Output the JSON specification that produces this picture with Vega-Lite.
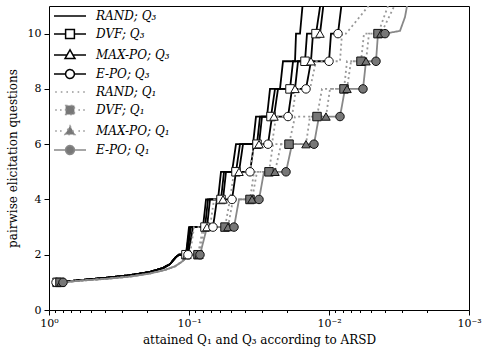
{
"$schema": "https://vega.github.io/schema/vega-lite/v6.json",
"width": 420, "height": 304,
"autosize": {"type": "none"},
"padding": {"left": 49, "top": 6, "right": 15, "bottom": 38},
"background": "white",
"config": {"view": {"stroke": "black", "strokeWidth": 1}, "font": "DejaVu Serif"},
"data": {"values": [
{"s":"RAND; Q₃","x":0.8767,"y":1},{"s":"RAND; Q₃","x":0.6006,"y":1.08},{"s":"RAND; Q₃","x":0.3852,"y":1.17},{"s":"RAND; Q₃","x":0.2639,"y":1.26},{"s":"RAND; Q₃","x":0.1899,"y":1.38},{"s":"RAND; Q₃","x":0.1534,"y":1.52},{"s":"RAND; Q₃","x":0.1367,"y":1.66},{"s":"RAND; Q₃","x":0.1238,"y":1.92},{"s":"RAND; Q₃","x":0.1179,"y":2},
{"s":"RAND; Q₃","x":0.1051,"y":2},{"s":"RAND; Q₃","x":0.1,"y":3},{"s":"RAND; Q₃","x":0.07943,"y":3},{"s":"RAND; Q₃","x":0.0756,"y":4},{"s":"RAND; Q₃","x":0.06207,"y":4},{"s":"RAND; Q₃","x":0.05908,"y":5},{"s":"RAND; Q₃","x":0.0493,"y":5},{"s":"RAND; Q₃","x":0.04616,"y":6},{"s":"RAND; Q₃","x":0.0349,"y":6},{"s":"RAND; Q₃","x":0.03322,"y":7},{"s":"RAND; Q₃","x":0.02772,"y":7},{"s":"RAND; Q₃","x":0.02639,"y":8},{"s":"RAND; Q₃","x":0.02239,"y":8},{"s":"RAND; Q₃","x":0.02131,"y":9},{"s":"RAND; Q₃","x":0.01749,"y":9},{"s":"RAND; Q₃","x":0.0172,"y":10},{"s":"RAND; Q₃","x":0.01611,"y":10},{"s":"RAND; Q₃","x":0.01534,"y":11.2},

{"s":"DVF; Q₃","x":0.8767,"y":1,"m":1},{"s":"DVF; Q₃","x":0.6006,"y":1.08},{"s":"DVF; Q₃","x":0.3852,"y":1.17},{"s":"DVF; Q₃","x":0.2639,"y":1.26},{"s":"DVF; Q₃","x":0.1899,"y":1.38},{"s":"DVF; Q₃","x":0.1534,"y":1.52},{"s":"DVF; Q₃","x":0.1367,"y":1.66},{"s":"DVF; Q₃","x":0.1238,"y":1.92},{"s":"DVF; Q₃","x":0.1179,"y":2},
{"s":"DVF; Q₃","x":0.1051,"y":2,"m":1},{"s":"DVF; Q₃","x":0.09837,"y":3},{"s":"DVF; Q₃","x":0.07686,"y":3,"m":1},{"s":"DVF; Q₃","x":0.07316,"y":4},{"s":"DVF; Q₃","x":0.05908,"y":4,"m":1},{"s":"DVF; Q₃","x":0.05624,"y":5},{"s":"DVF; Q₃","x":0.04616,"y":5,"m":1},{"s":"DVF; Q₃","x":0.04322,"y":6},{"s":"DVF; Q₃","x":0.03268,"y":6,"m":1},{"s":"DVF; Q₃","x":0.0311,"y":7},{"s":"DVF; Q₃","x":0.02596,"y":7,"m":1},{"s":"DVF; Q₃","x":0.02431,"y":8},{"s":"DVF; Q₃","x":0.01899,"y":8,"m":1},{"s":"DVF; Q₃","x":0.01807,"y":9},{"s":"DVF; Q₃","x":0.01484,"y":9,"m":1},{"s":"DVF; Q₃","x":0.01436,"y":10},{"s":"DVF; Q₃","x":0.01238,"y":10,"m":1},{"s":"DVF; Q₃","x":0.01141,"y":11.2},

{"s":"MAX-PO; Q₃","x":0.8624,"y":1,"m":1},{"s":"MAX-PO; Q₃","x":0.6006,"y":1.08},{"s":"MAX-PO; Q₃","x":0.3852,"y":1.17},{"s":"MAX-PO; Q₃","x":0.2639,"y":1.26},{"s":"MAX-PO; Q₃","x":0.1899,"y":1.38},{"s":"MAX-PO; Q₃","x":0.1534,"y":1.52},{"s":"MAX-PO; Q₃","x":0.1367,"y":1.66},{"s":"MAX-PO; Q₃","x":0.1238,"y":1.92},{"s":"MAX-PO; Q₃","x":0.1179,"y":2},
{"s":"MAX-PO; Q₃","x":0.1034,"y":2,"m":1},{"s":"MAX-PO; Q₃","x":0.09676,"y":3},{"s":"MAX-PO; Q₃","x":0.07437,"y":3,"m":1},{"s":"MAX-PO; Q₃","x":0.0708,"y":4},{"s":"MAX-PO; Q₃","x":0.05717,"y":4,"m":1},{"s":"MAX-PO; Q₃","x":0.05442,"y":5},{"s":"MAX-PO; Q₃","x":0.04394,"y":5,"m":1},{"s":"MAX-PO; Q₃","x":0.04114,"y":6},{"s":"MAX-PO; Q₃","x":0.03162,"y":6,"m":1},{"s":"MAX-PO; Q₃","x":0.0301,"y":7},{"s":"MAX-PO; Q₃","x":0.02471,"y":7,"m":1},{"s":"MAX-PO; Q₃","x":0.02314,"y":8},{"s":"MAX-PO; Q₃","x":0.01749,"y":8,"m":1},{"s":"MAX-PO; Q₃","x":0.01665,"y":9},{"s":"MAX-PO; Q₃","x":0.01345,"y":9,"m":1},{"s":"MAX-PO; Q₃","x":0.01301,"y":10},{"s":"MAX-PO; Q₃","x":0.0116,"y":10,"m":1},{"s":"MAX-PO; Q₃","x":0.01086,"y":11.2},

{"s":"E-PO; Q₃","x":0.8913,"y":1,"m":1},{"s":"E-PO; Q₃","x":0.6006,"y":1.08},{"s":"E-PO; Q₃","x":0.3852,"y":1.17},{"s":"E-PO; Q₃","x":0.2639,"y":1.26},{"s":"E-PO; Q₃","x":0.1899,"y":1.38},{"s":"E-PO; Q₃","x":0.1534,"y":1.52},{"s":"E-PO; Q₃","x":0.1367,"y":1.66},{"s":"E-PO; Q₃","x":0.1238,"y":1.92},{"s":"E-PO; Q₃","x":0.1179,"y":2},
{"s":"E-PO; Q₃","x":0.1017,"y":2,"m":1},{"s":"E-PO; Q₃","x":0.09363,"y":3},{"s":"E-PO; Q₃","x":0.06739,"y":3,"m":1},{"s":"E-PO; Q₃","x":0.0631,"y":4},{"s":"E-PO; Q₃","x":0.0493,"y":4,"m":1},{"s":"E-PO; Q₃","x":0.04616,"y":5},{"s":"E-PO; Q₃","x":0.03667,"y":5,"m":1},{"s":"E-PO; Q₃","x":0.03433,"y":6},{"s":"E-PO; Q₃","x":0.02727,"y":6,"m":1},{"s":"E-PO; Q₃","x":0.02553,"y":7},{"s":"E-PO; Q₃","x":0.01962,"y":7,"m":1},{"s":"E-PO; Q₃","x":0.01837,"y":8},{"s":"E-PO; Q₃","x":0.0146,"y":8,"m":1},{"s":"E-PO; Q₃","x":0.01345,"y":9},{"s":"E-PO; Q₃","x":0.01,"y":9,"m":1},{"s":"E-PO; Q₃","x":0.009676,"y":10},{"s":"E-PO; Q₃","x":0.008624,"y":10,"m":1},{"s":"E-PO; Q₃","x":0.008075,"y":11.2},

{"s":"RAND; Q₁","x":0.8075,"y":1},{"s":"RAND; Q₁","x":0.6006,"y":1.06},{"s":"RAND; Q₁","x":0.3852,"y":1.13},{"s":"RAND; Q₁","x":0.2639,"y":1.21},{"s":"RAND; Q₁","x":0.1899,"y":1.32},{"s":"RAND; Q₁","x":0.1484,"y":1.45},{"s":"RAND; Q₁","x":0.1259,"y":1.58},{"s":"RAND; Q₁","x":0.1122,"y":1.75},{"s":"RAND; Q₁","x":0.1017,"y":1.95},{"s":"RAND; Q₁","x":0.09837,"y":2},
{"s":"RAND; Q₁","x":0.0921,"y":3},{"s":"RAND; Q₁","x":0.0708,"y":3},{"s":"RAND; Q₁","x":0.06628,"y":4},{"s":"RAND; Q₁","x":0.05095,"y":4},{"s":"RAND; Q₁","x":0.0477,"y":5},{"s":"RAND; Q₁","x":0.03667,"y":5},{"s":"RAND; Q₁","x":0.03433,"y":6},{"s":"RAND; Q₁","x":0.02553,"y":6},{"s":"RAND; Q₁","x":0.02391,"y":7},{"s":"RAND; Q₁","x":0.01837,"y":7},{"s":"RAND; Q₁","x":0.0172,"y":8},{"s":"RAND; Q₁","x":0.01367,"y":8},{"s":"RAND; Q₁","x":0.01238,"y":9},{"s":"RAND; Q₁","x":0.008345,"y":9},{"s":"RAND; Q₁","x":0.008075,"y":10},{"s":"RAND; Q₁","x":0.00756,"y":10},{"s":"RAND; Q₁","x":0.00485,"y":11.2},

{"s":"DVF; Q₁","x":0.8345,"y":1,"m":1},{"s":"DVF; Q₁","x":0.6006,"y":1.06},{"s":"DVF; Q₁","x":0.3852,"y":1.13},{"s":"DVF; Q₁","x":0.2639,"y":1.21},{"s":"DVF; Q₁","x":0.1899,"y":1.32},{"s":"DVF; Q₁","x":0.1484,"y":1.45},{"s":"DVF; Q₁","x":0.1259,"y":1.58},{"s":"DVF; Q₁","x":0.1122,"y":1.75},{"s":"DVF; Q₁","x":0.1017,"y":1.95},{"s":"DVF; Q₁","x":0.09837,"y":2},
{"s":"DVF; Q₁","x":0.08624,"y":2,"m":1},{"s":"DVF; Q₁","x":0.07943,"y":3},{"s":"DVF; Q₁","x":0.05532,"y":3,"m":1},{"s":"DVF; Q₁","x":0.05095,"y":4},{"s":"DVF; Q₁","x":0.03667,"y":4,"m":1},{"s":"DVF; Q₁","x":0.03433,"y":5},{"s":"DVF; Q₁","x":0.02683,"y":5,"m":1},{"s":"DVF; Q₁","x":0.02512,"y":6},{"s":"DVF; Q₁","x":0.0193,"y":6,"m":1},{"s":"DVF; Q₁","x":0.01749,"y":7},{"s":"DVF; Q₁","x":0.01218,"y":7,"m":1},{"s":"DVF; Q₁","x":0.01122,"y":8},{"s":"DVF; Q₁","x":0.007814,"y":8,"m":1},{"s":"DVF; Q₁","x":0.007437,"y":9},{"s":"DVF; Q₁","x":0.005908,"y":9,"m":1},{"s":"DVF; Q₁","x":0.005624,"y":10},{"s":"DVF; Q₁","x":0.004467,"y":10,"m":1},{"s":"DVF; Q₁","x":0.003667,"y":11.2},

{"s":"MAX-PO; Q₁","x":0.8209,"y":1,"m":1},{"s":"MAX-PO; Q₁","x":0.6006,"y":1.06},{"s":"MAX-PO; Q₁","x":0.3852,"y":1.13},{"s":"MAX-PO; Q₁","x":0.2639,"y":1.21},{"s":"MAX-PO; Q₁","x":0.1899,"y":1.32},{"s":"MAX-PO; Q₁","x":0.1484,"y":1.45},{"s":"MAX-PO; Q₁","x":0.1259,"y":1.58},{"s":"MAX-PO; Q₁","x":0.1122,"y":1.75},{"s":"MAX-PO; Q₁","x":0.1017,"y":1.95},{"s":"MAX-PO; Q₁","x":0.09837,"y":2},
{"s":"MAX-PO; Q₁","x":0.08484,"y":2,"m":1},{"s":"MAX-PO; Q₁","x":0.07686,"y":3},{"s":"MAX-PO; Q₁","x":0.05266,"y":3,"m":1},{"s":"MAX-PO; Q₁","x":0.0485,"y":4},{"s":"MAX-PO; Q₁","x":0.03548,"y":4,"m":1},{"s":"MAX-PO; Q₁","x":0.03268,"y":5},{"s":"MAX-PO; Q₁","x":0.02431,"y":5,"m":1},{"s":"MAX-PO; Q₁","x":0.02202,"y":6},{"s":"MAX-PO; Q₁","x":0.0146,"y":6,"m":1},{"s":"MAX-PO; Q₁","x":0.01367,"y":7},{"s":"MAX-PO; Q₁","x":0.01051,"y":7,"m":1},{"s":"MAX-PO; Q₁","x":0.009837,"y":8},{"s":"MAX-PO; Q₁","x":0.007437,"y":8,"m":1},{"s":"MAX-PO; Q₁","x":0.006964,"y":9},{"s":"MAX-PO; Q₁","x":0.005442,"y":9,"m":1},{"s":"MAX-PO; Q₁","x":0.00518,"y":10},{"s":"MAX-PO; Q₁","x":0.004252,"y":10,"m":1},{"s":"MAX-PO; Q₁","x":0.003268,"y":11.2},

{"s":"E-PO; Q₁","x":0.7943,"y":1,"m":1},{"s":"E-PO; Q₁","x":0.6006,"y":1.06},{"s":"E-PO; Q₁","x":0.3852,"y":1.13},{"s":"E-PO; Q₁","x":0.2639,"y":1.21},{"s":"E-PO; Q₁","x":0.1899,"y":1.32},{"s":"E-PO; Q₁","x":0.1484,"y":1.45},{"s":"E-PO; Q₁","x":0.1259,"y":1.58},{"s":"E-PO; Q₁","x":0.1122,"y":1.75},{"s":"E-PO; Q₁","x":0.1017,"y":1.95},{"s":"E-PO; Q₁","x":0.09837,"y":2},
{"s":"E-PO; Q₁","x":0.08345,"y":2,"m":1},{"s":"E-PO; Q₁","x":0.07437,"y":3},{"s":"E-PO; Q₁","x":0.0477,"y":3,"m":1},{"s":"E-PO; Q₁","x":0.04394,"y":4},{"s":"E-PO; Q₁","x":0.03162,"y":4,"m":1},{"s":"E-PO; Q₁","x":0.02912,"y":5},{"s":"E-PO; Q₁","x":0.02028,"y":5,"m":1},{"s":"E-PO; Q₁","x":0.01837,"y":6},{"s":"E-PO; Q₁","x":0.0128,"y":6,"m":1},{"s":"E-PO; Q₁","x":0.01179,"y":7},{"s":"E-PO; Q₁","x":0.008345,"y":7,"m":1},{"s":"E-PO; Q₁","x":0.007686,"y":8},{"s":"E-PO; Q₁","x":0.005717,"y":8,"m":1},{"s":"E-PO; Q₁","x":0.005442,"y":9},{"s":"E-PO; Q₁","x":0.004616,"y":9,"m":1},{"s":"E-PO; Q₁","x":0.004467,"y":10},{"s":"E-PO; Q₁","x":0.003981,"y":10,"m":1},{"s":"E-PO; Q₁","x":0.003111,"y":10.1},{"s":"E-PO; Q₁","x":0.002865,"y":10.6},{"s":"E-PO; Q₁","x":0.002727,"y":11.2}
]},
"encoding": {
  "x": {"field": "x", "type": "quantitative",
    "scale": {"type": "log", "domain": [0.001, 1], "reverse": true, "nice": false},
    "axis": {"title": "attained Q₁ and Q₃ according to ARSD",
      "values": [1,0.9,0.8,0.7,0.6,0.5,0.4,0.3,0.2,0.1,0.09,0.08,0.07,0.06,0.05,0.04,0.03,0.02,0.01,0.009,0.008,0.007,0.006,0.005,0.004,0.003,0.002,0.001],
      "labelExpr": "datum.value == 1 ? '10⁰' : datum.value == 0.1 ? '10⁻¹' : datum.value == 0.01 ? '10⁻²' : datum.value == 0.001 ? '10⁻³' : ''",
      "tickSize": {"condition": {"test": "datum.value == 1 || datum.value == 0.1 || datum.value == 0.01 || datum.value == 0.001", "value": 5}, "value": 2.5},
      "grid": false, "domain": false, "labelFlush": false, "labelOverlap": false, "labelPadding": 2,
      "tickColor": "black", "labelColor": "black", "titleColor": "black",
      "labelFont": "DejaVu Serif", "labelFontSize": 11, "titleFont": "DejaVu Serif", "titleFontSize": 12, "titleFontWeight": "normal", "titlePadding": 6}},
  "y": {"field": "y", "type": "quantitative",
    "scale": {"domain": [0, 11], "nice": false, "zero": true},
    "axis": {"title": "pairwise elicitation questions", "values": [0,2,4,6,8,10],
      "grid": false, "domain": false, "tickSize": 5, "labelPadding": 3,
      "tickColor": "black", "labelColor": "black", "titleColor": "black",
      "labelFont": "DejaVu Serif", "labelFontSize": 11, "titleFont": "DejaVu Serif", "titleFontSize": 12, "titleFontWeight": "normal", "titlePadding": 8}}
},
"layer": [
  {"mark": {"type": "line", "clip": true, "strokeWidth": 1.8, "interpolate": "linear"},
   "encoding": {
     "color": {"field": "s", "type": "nominal",
       "scale": {"domain": ["RAND; Q₃","DVF; Q₃","MAX-PO; Q₃","E-PO; Q₃","RAND; Q₁","DVF; Q₁","MAX-PO; Q₁","E-PO; Q₁"],
                 "range": ["#000000","#000000","#000000","#000000","#999999","#999999","#999999","#888888"]},
       "legend": {"title": null, "orient": "none", "legendX": 15, "legendY": 4, "padding": 0,
         "labelFont": "DejaVu Serif", "labelFontSize": 12, "labelFontStyle": "italic", "labelColor": "black",
         "rowPadding": 4, "labelOffset": 20, "symbolSize": 64, "symbolStrokeWidth": 1.5,
         "encode": {"symbols": {"update": {
           "shape": {"signal": "['M-4,0H4','M-4,0H-1.1M1.1,0H4M-1.1,-1.1H1.1V1.1H-1.1Z','M-4,0H-0.74M0.74,0H4M0,-1.3L1.25,0.9H-1.25Z','M-4,0H-1.1M1.1,0H4M1.1,0A1.1,1.1,0,1,1,-1.1,0A1.1,1.1,0,1,1,1.1,0Z','M-3.7,0H-3.3M-2.3,0H-1.9M-0.9,0H-0.5M0.5,0H0.9M1.9,0H2.3M3.3,0H3.7','M-3.7,0H-3.3M-2.5,0H-2.1M2.1,0H2.5M3.3,0H3.7M-1.1,-1.1H1.1V1.1H-1.1Z','M-3.7,0H-3.3M-2.5,0H-2.1M2.1,0H2.5M3.3,0H3.7M0,-1.3L1.25,0.9H-1.25Z','M-4,0H-1.1M1.1,0H4M1.1,0A1.1,1.1,0,1,1,-1.1,0A1.1,1.1,0,1,1,1.1,0Z'][indexof(['RAND; Q₃','DVF; Q₃','MAX-PO; Q₃','E-PO; Q₃','RAND; Q₁','DVF; Q₁','MAX-PO; Q₁','E-PO; Q₁'], datum.value)]"},
           "fill": {"signal": "['transparent','#ffffff','#ffffff','#ffffff','transparent','#777777','#777777','#777777'][indexof(['RAND; Q₃','DVF; Q₃','MAX-PO; Q₃','E-PO; Q₃','RAND; Q₁','DVF; Q₁','MAX-PO; Q₁','E-PO; Q₁'], datum.value)]"},
           "stroke": {"signal": "['#000000','#000000','#000000','#000000','#999999','#555555','#555555','#555555'][indexof(['RAND; Q₃','DVF; Q₃','MAX-PO; Q₃','E-PO; Q₃','RAND; Q₁','DVF; Q₁','MAX-PO; Q₁','E-PO; Q₁'], datum.value)]"},
           "strokeWidth": {"value": 1.5},
           "strokeDash": {"value": []},
           "size": {"value": 64},
           "opacity": {"value": 1}
         }}}}},
     "strokeDash": {"field": "s", "type": "nominal",
       "scale": {"domain": ["RAND; Q₃","DVF; Q₃","MAX-PO; Q₃","E-PO; Q₃","RAND; Q₁","DVF; Q₁","MAX-PO; Q₁","E-PO; Q₁"],
                 "range": [[1,0],[1,0],[1,0],[1,0],[2,3],[2,3],[2,3],[1,0]]},
       "legend": null}
   }},
  {"transform": [{"filter": "datum.m == 1"}],
   "mark": {"type": "point", "filled": true, "size": 72, "stroke": "#111111", "strokeWidth": 1, "opacity": 1, "clip": true},
   "encoding": {
     "shape": {"field": "s", "type": "nominal",
       "scale": {"domain": ["DVF; Q₃","MAX-PO; Q₃","E-PO; Q₃","DVF; Q₁","MAX-PO; Q₁","E-PO; Q₁"],
                 "range": ["square","triangle-up","circle","square","triangle-up","circle"]},
       "legend": null},
     "fill": {"field": "s", "type": "nominal",
       "scale": {"domain": ["DVF; Q₃","MAX-PO; Q₃","E-PO; Q₃","DVF; Q₁","MAX-PO; Q₁","E-PO; Q₁"],
                 "range": ["#ffffff","#ffffff","#ffffff","#777777","#777777","#777777"]},
       "legend": null}
   }}
]
}
